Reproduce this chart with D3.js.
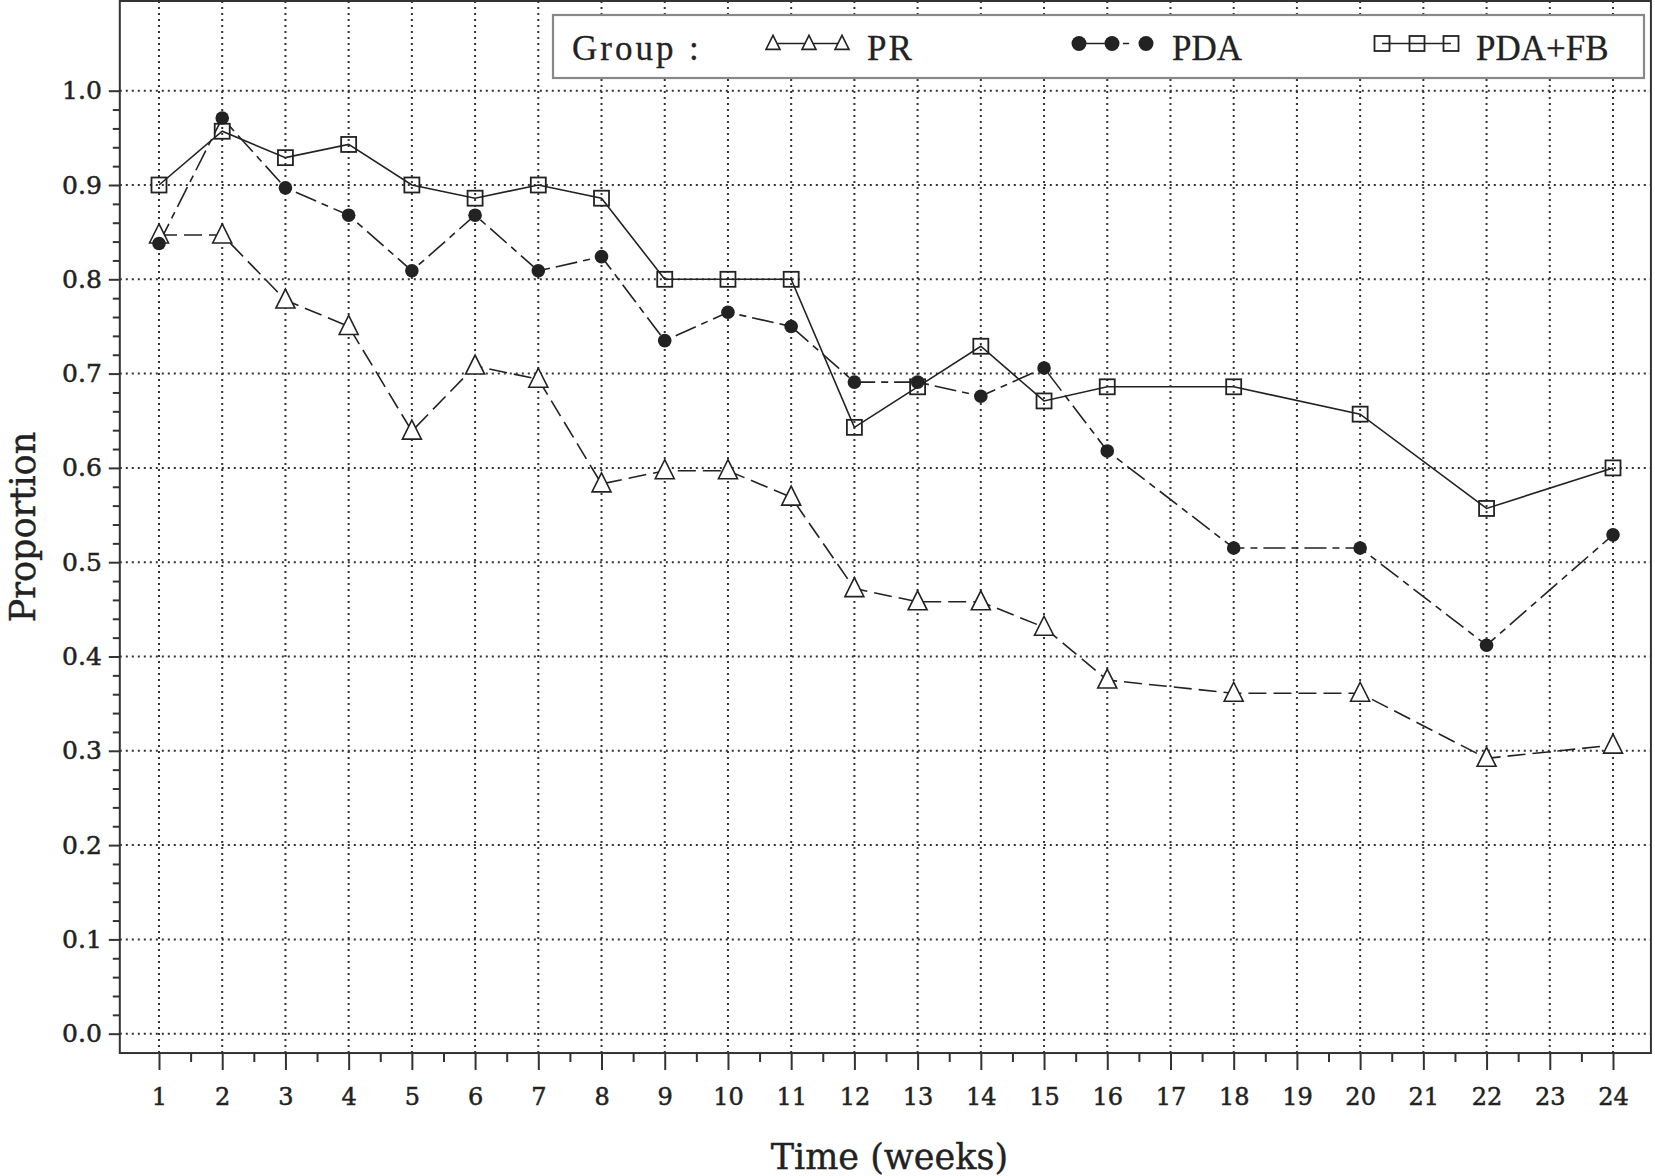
<!DOCTYPE html>
<html>
<head>
<meta charset="utf-8">
<script src="https://cdn.jsdelivr.net/npm/d3@7"></script>
<style>
  html, body { margin: 0; padding: 0; background: #fff; }
  svg { display: block; }
</style>
</head>
<body>
<svg id="chart" width="1655" height="1176"></svg>
<script>
// ---- data ----
const weeks = [1,2,3,4,5,6,7,8,9,10,11,12,13,14,15,16,18,20,22,24];
const tickWeeks = [1,2,3,4,5,6,7,8,9,10,11,12,13,14,15,16,17,18,19,20,21,22,23,24];
const yTicks = [0.0,0.1,0.2,0.3,0.4,0.5,0.6,0.7,0.8,0.9,1.0];
const groupNames = ["PR", "PDA", "PDA+FB"];
const prValues   = [0.847,0.847,0.778,0.750,0.639,0.708,0.694,0.583,0.597,0.597,0.569,0.472,0.458,0.458,0.431,0.375,0.361,0.361,0.292,0.306];
const pdaValues  = [0.838,0.971,0.897,0.868,0.809,0.868,0.809,0.824,0.735,0.765,0.750,0.691,0.691,0.676,0.706,0.618,0.515,0.515,0.412,0.529];
const fbValues   = [0.900,0.957,0.929,0.943,0.900,0.886,0.900,0.886,0.800,0.800,0.800,0.643,0.686,0.729,0.671,0.686,0.686,0.657,0.557,0.600];

// ---- layout ----
const svg = d3.select("#chart");
const ink = "#222";
const x = d3.scaleLinear().domain([1, 24]).range([159, 1613]);
const y = d3.scaleLinear().domain([0, 1]).range([1033.7, 90.7]);
const frame = { left: x(0.38), right: x(24.6), top: 1, bottom: y(-0.0205) };

// grid
const grid = svg.append("g").attr("stroke", "#333").attr("stroke-width", 2)
  .attr("stroke-dasharray", "2,4");
grid.selectAll("line.v").data(tickWeeks).join("line")
  .attr("x1", d => x(d)).attr("x2", d => x(d))
  .attr("y1", frame.top).attr("y2", frame.bottom);
grid.selectAll("line.h").data(yTicks).join("line")
  .attr("x1", frame.left).attr("x2", frame.right)
  .attr("y1", d => y(d)).attr("y2", d => y(d));

// axes
const xAxis = svg.append("g").attr("transform", `translate(0,${frame.bottom})`)
  .call(d3.axisBottom(x).tickValues(tickWeeks).tickSize(17).tickPadding(18).tickFormat(d3.format("d")));
const xMinor = svg.append("g").attr("transform", `translate(0,${frame.bottom})`)
  .call(d3.axisBottom(x).tickValues(d3.range(1.5, 24, 1)).tickSize(9).tickFormat(""));
const yAxis = svg.append("g").attr("transform", `translate(${frame.left},0)`)
  .call(d3.axisLeft(y).tickValues(yTicks).tickSize(11).tickPadding(7).tickFormat(d3.format(".1f")));
const yMinor = svg.append("g").attr("transform", `translate(${frame.left},0)`)
  .call(d3.axisLeft(y).tickValues(d3.range(0, 1.0, 0.02).filter(v => Math.abs(v*10 - Math.round(v*10)) > 1e-6)).tickSize(7).tickFormat(""));
[xAxis, xMinor, yAxis, yMinor].forEach(g => {
  g.select(".domain").remove();
  g.selectAll(".tick line").attr("stroke", "#333").attr("stroke-width", 2);
});
xAxis.selectAll("text").attr("font-family", "DejaVu Serif").attr("font-size", 24).attr("fill", ink)
  .attr("stroke", ink).attr("stroke-width", 0.5);
yAxis.selectAll("text").attr("font-family", "DejaVu Serif").attr("font-size", 25).attr("fill", ink)
  .attr("stroke", ink).attr("stroke-width", 0.5);

// frame
svg.append("rect")
  .attr("x", frame.left).attr("y", frame.top)
  .attr("width", frame.right - frame.left).attr("height", frame.bottom - frame.top)
  .attr("fill", "none").attr("stroke", "#333").attr("stroke-width", 2);

// axis titles
svg.append("text").attr("x", (frame.left + frame.right) / 2 + 4).attr("y", 1169)
  .attr("text-anchor", "middle").attr("font-family", "DejaVu Serif").attr("font-size", 35)
  .attr("fill", ink).attr("stroke", ink).attr("stroke-width", 0.4).text("Time (weeks)");
svg.append("text").attr("transform", `translate(35,${(frame.top + frame.bottom) / 2}) rotate(-90)`)
  .attr("text-anchor", "middle").attr("font-family", "DejaVu Serif").attr("font-size", 35)
  .attr("fill", ink).attr("stroke", ink).attr("stroke-width", 0.4).text("Proportion");

// series
const series = [
  { name: groupNames[0], values: prValues,  dash: "18,7",        marker: "triangle" },
  { name: groupNames[1], values: pdaValues, dash: "22,6,7,6",    marker: "circle" },
  { name: groupNames[2], values: fbValues,  dash: null,          marker: "square" }
];
const line = d3.line().x(d => x(d[0])).y(d => y(d[1]));
const triPath = (s) => `M0,${-s*0.58}L${s/2},${s*0.42}L${-s/2},${s*0.42}Z`;

function drawMarker(g, type, size) {
  if (type === "triangle") {
    g.append("path").attr("d", triPath(size)).attr("fill", "#fff").attr("stroke", ink).attr("stroke-width", 1.6);
  } else if (type === "circle") {
    g.append("circle").attr("r", size / 2).attr("fill", ink);
  } else {
    g.append("rect").attr("x", -size/2).attr("y", -size/2).attr("width", size).attr("height", size)
      .attr("fill", "none").attr("stroke", ink).attr("stroke-width", 1.8);
  }
}

series.forEach(s => {
  const pts = weeks.map((w, i) => [w, s.values[i]]);
  svg.append("path").datum(pts).attr("d", line)
    .attr("fill", "none").attr("stroke", ink).attr("stroke-width", 1.6)
    .attr("stroke-dasharray", s.dash);
});
series.forEach(s => {
  const size = s.marker === "triangle" ? 19 : s.marker === "circle" ? 13.6 : 15;
  weeks.forEach((w, i) => {
    const g = svg.append("g").attr("transform", `translate(${x(w)},${y(s.values[i])})`);
    drawMarker(g, s.marker, size);
  });
});

// legend
const lg = svg.append("g");
lg.append("rect").attr("x", 553).attr("y", 15).attr("width", 1091).attr("height", 63)
  .attr("fill", "#fff").attr("stroke", "#888").attr("stroke-width", 2.2);
const lfont = { family: "Liberation Serif", size: 35 };
lg.append("text").attr("x", 572).attr("y", 60).attr("font-family", lfont.family).attr("font-size", lfont.size)
  .attr("letter-spacing", 3).attr("fill", ink).attr("stroke", ink).attr("stroke-width", 0.3).text("Group");
lg.append("text").attr("x", 689).attr("y", 60).attr("font-family", lfont.family).attr("font-size", lfont.size)
  .attr("fill", ink).attr("stroke", ink).attr("stroke-width", 0.3).text(":");
const legendItems = [
  { s: series[0], xs: [773, 809, 842], tx: 867, size: 14 },
  { s: series[1], xs: [1079, 1112, 1146], tx: 1172, size: 15 },
  { s: series[2], xs: [1382, 1417, 1451], tx: 1476, size: 15 }
];
legendItems.forEach(it => {
  const yy = 43.5;
  lg.append("line").attr("x1", it.xs[0]).attr("x2", it.xs[1]).attr("y1", yy).attr("y2", yy)
    .attr("stroke", ink).attr("stroke-width", 1.6);
  lg.append("line").attr("x1", it.xs[1]).attr("x2", it.xs[2]).attr("y1", yy).attr("y2", yy)
    .attr("stroke", ink).attr("stroke-width", 1.6)
    .attr("stroke-dasharray", it.s.marker === "circle" ? "3,8,6,30" : null);
  it.xs.forEach(cx => {
    const g = lg.append("g").attr("transform", `translate(${cx},${yy})`);
    drawMarker(g, it.s.marker, it.size);
  });
  lg.append("text").attr("x", it.tx).attr("y", 60).attr("font-family", lfont.family)
    .attr("font-size", lfont.size).attr("fill", ink).attr("stroke", ink).attr("stroke-width", 0.3)
    .attr("letter-spacing", it.s.name === "PR" ? 2 : 0).text(it.s.name);
});
</script>
</body>
</html>
